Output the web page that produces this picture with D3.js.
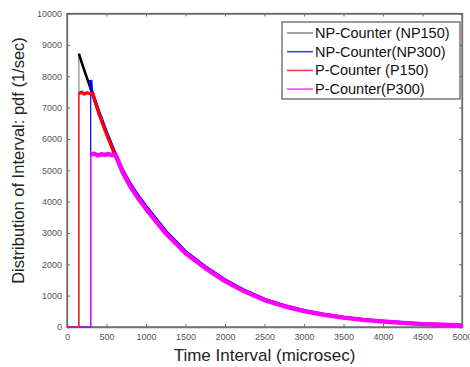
<!DOCTYPE html>
<html>
<head>
<meta charset="utf-8">
<script src="https://cdn.jsdelivr.net/npm/d3@7"></script>
<style>
  body { margin: 0; background: #fff; }
  text { font-family: "Liberation Sans", Arial, sans-serif; }
</style>
</head>
<body>
<div id="vis"></div>
<script>
// values
let seriesNames = ['NP-Counter (NP150)', 'NP-Counter(NP300)', 'P-Counter (P150)', 'P-Counter(P300)']
let seriesColors = ['#000000', '#0000ff', '#ff0000', '#ff00ff']

let xTicks = [0, 500, 1000, 1500, 2000, 2500, 3000, 3500, 4000, 4500, 5000]
let yTicks = [0, 1000, 2000, 3000, 4000, 5000, 6000, 7000, 8000, 9000, 10000]

// decaying part shared by the counters (microsec, 1/sec)
let decayT = [150, 200, 250, 300, 400, 500, 600, 700, 800, 900, 1000, 1250, 1500, 1750, 2000, 2250, 2500, 2750, 3000, 3250, 3500, 3750, 4000, 4250, 4500, 4750, 5000]
let decayV = [8720, 8330, 7960, 7600, 6880, 6200, 5580, 5020, 4560, 4180, 3840, 3050, 2400, 1920, 1500, 1160, 880, 680, 521, 400, 308, 235, 181, 135, 96, 72, 53]
// the P-counter curve sits a little under the NP one
let decayPV = [8700, 8300, 7920, 7560, 6830, 6150, 5520, 4960, 4490, 4110, 3770, 2990, 2350, 1880, 1465, 1130, 858, 662, 508, 390, 300, 229, 176, 131, 93, 70, 51]

// dead time jumps and plateaus
let np150Start = 150
let np300Start = 300, np300Peak = 7880
let p150Start = 150, p150Plateau = [7450, 7490, 7430, 7470, 7440, 7460], p150PlateauT = [150, 185, 220, 255, 290, 325]
let p300Start = 300, p300Plateau = [5500, 5530, 5470, 5510, 5490, 5520, 5480, 5500], p300PlateauT = [300, 345, 390, 435, 480, 525, 570, 615]

let margin = { top: 13.5, left: 67, right: 8, bottom: 40 },
  width = 470 - margin.left - margin.right,
  height = 367 - margin.top - margin.bottom

let svg = d3.select('#vis')
  .append('svg')
  .attr('width', 470)
  .attr('height', 367)
  .append('g')
  .attr('transform', 'translate(' + margin.left + ',' + margin.top + ')')

let xScale = d3.scaleLinear().domain([0, 5000]).range([0, width])
let yScale = d3.scaleLinear().domain([0, 10000]).range([height, 0])

// build each series (upper part, after the jump) as [t, v] pairs
function decayFrom(t0, vals) {
  let out = []
  decayT.forEach(function (t, i) { if (t > t0) out.push([t, vals[i]]) })
  return out
}

let np150 = decayT.map(function (t, i) { return [t, decayV[i]] })
let np300 = [[np300Start, np300Peak], [np300Start + 8, 7560]].concat(decayFrom(np300Start + 50, decayV))
let p150 = p150PlateauT.map(function (t, i) { return [t, p150Plateau[i]] }).concat(decayFrom(330, decayPV))
let p300 = p300PlateauT.map(function (t, i) { return [t, p300Plateau[i]] }).concat(decayFrom(620, decayPV))

let allSeries = [np150, np300, p150, p300]
let starts = [np150Start, np300Start, p150Start, p300Start]
let widths = [2.6, 3.4, 3.2, 4.4]

// axes box
let axisColor = '#6e6e6e'
svg.append('rect')
  .attr('x', 0).attr('y', 0)
  .attr('width', width).attr('height', height)
  .attr('fill', 'none')
  .attr('stroke', axisColor)
  .attr('stroke-width', 1.3)

let xAxis = svg.append('g')
  .attr('transform', 'translate(0,' + height + ')')
  .call(d3.axisBottom(xScale).tickValues(xTicks).tickSize(-3).tickPadding(7).tickFormat(d3.format('d')))
let xAxisTop = svg.append('g')
  .call(d3.axisTop(xScale).tickValues(xTicks).tickSize(-3).tickFormat(''))
let yAxis = svg.append('g')
  .call(d3.axisLeft(yScale).tickValues(yTicks).tickSize(-3).tickPadding(5).tickFormat(d3.format('d')))
let yAxisRight = svg.append('g')
  .attr('transform', 'translate(' + width + ',0)')
  .call(d3.axisRight(yScale).tickValues(yTicks).tickSize(-3).tickFormat(''))

;[xAxis, xAxisTop, yAxis, yAxisRight].forEach(function (a) {
  a.select('.domain').attr('stroke', axisColor).attr('stroke-width', 1.3)
  a.selectAll('.tick line').attr('stroke', axisColor)
  a.selectAll('.tick text')
    .attr('fill', '#555')
    .style('font-size', '9px')
    .style('font-family', '"Liberation Sans", Arial, sans-serif')
})

// curves: thin baseline + jump edge, then the noisy (thick) upper part
let line = d3.line()
  .x(function (d) { return xScale(d[0]) })
  .y(function (d) { return yScale(d[1]) })

let groups = svg.selectAll('.series')
  .data(allSeries)
  .enter()
  .append('g')
  .attr('class', 'series')

groups.append('path')
  .attr('d', function (d, i) { return line([[0, 0], [starts[i], 0], d[0]]) })
  .attr('fill', 'none')
  .attr('stroke', function (d, i) { return i == 0 ? '#888' : seriesColors[i] })
  .attr('stroke-width', 1.2)

groups.append('path')
  .attr('d', line)
  .attr('fill', 'none')
  .attr('stroke', function (d, i) { return seriesColors[i] })
  .attr('stroke-width', function (d, i) { return widths[i] })
  .attr('stroke-linejoin', 'round')

// labels
svg.append('text')
  .attr('x', width / 2)
  .attr('y', height + 34)
  .attr('text-anchor', 'middle')
  .style('font-size', '17px')
  .attr('fill', '#222')
  .text('Time Interval (microsec)')

svg.append('text')
  .attr('transform', 'rotate(-90)')
  .attr('x', -147)
  .attr('y', -43)
  .attr('text-anchor', 'middle')
  .style('font-size', '16.5px')
  .attr('fill', '#222')
  .text('Distribution of Interval: pdf (1/sec)')

// legend
let legend = svg.append('g')
  .attr('transform', 'translate(' + (282 - margin.left) + ',' + (22 - margin.top) + ')')
legend.append('rect')
  .attr('width', 178)
  .attr('height', 77)
  .attr('fill', '#fff')
  .attr('stroke', '#555')
  .attr('stroke-width', 1.2)

let rows = legend.selectAll('.row')
  .data(seriesNames)
  .enter()
  .append('g')
  .attr('transform', function (d, i) { return 'translate(0,' + (11 + i * 18.7) + ')' })
rows.append('line')
  .attr('x1', 5).attr('x2', 31)
  .attr('stroke', function (d, i) { return seriesColors[i] })
  .attr('stroke-width', function (d, i) { return i == 0 ? 1 : 1.6 })
  .attr('stroke-opacity', function (d, i) { return i == 0 ? 0.7 : 0.75 })
rows.append('text')
  .attr('x', 33)
  .attr('dy', '0.35em')
  .style('font-size', '14.5px')
  .attr('fill', '#111')
  .text(function (d) { return d })
</script>
</body>
</html>
